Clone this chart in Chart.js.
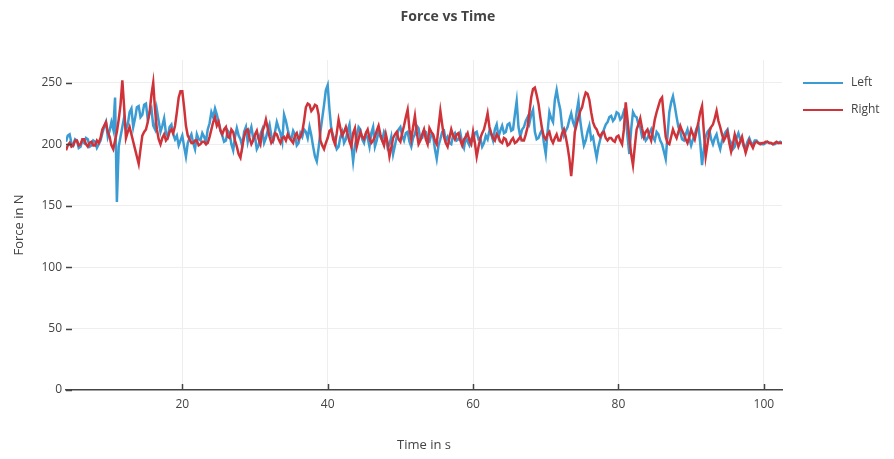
<!DOCTYPE html>
<html>
<head>
<meta charset="utf-8">
<script src="https://cdn.jsdelivr.net/npm/chart.js@4.4.1/dist/chart.umd.min.js"></script>
<style>
  html, body { margin: 0; padding: 0; background: #fff; }
  #wrap { width: 894px; height: 459px; }
</style>
</head>
<body>
<div id="wrap"><canvas id="c" width="894" height="459"></canvas></div>
<script>
// ---- data ----
const chartTitle = "Force vs Time";
const xTitle = "Time in s";
const yTitle = "Force in N";
const seriesNames = ["Left", "Right"];
const timeStart = 4;       // s
const timeStep = 0.25;     // s (sampling interval)
const xTicks = [20, 40, 60, 80, 100];
const yTicks = [0, 50, 100, 150, 200, 250];

const leftForce = [
  202,207,208,201,199,204,203,197,198,203,201,205,204,198,199,203,202,197,200,203,
  209,214,218,206,211,218,212,238,153,198,206,214,222,212,216,226,229,214,221,230,
  231,222,224,232,233,220,226,229,215,212,228,219,210,215,221,209,206,214,216,208,
  204,207,199,203,207,198,190,201,205,208,201,196,208,204,203,209,206,202,212,217,
  226,222,229,224,218,211,207,202,203,211,209,200,195,206,213,207,204,198,210,214,
  202,209,214,205,206,196,199,208,212,201,205,211,216,207,203,210,218,213,209,202,
  224,219,212,206,204,211,208,199,201,209,206,212,210,205,214,207,198,190,186,197,
  210,221,232,244,248,228,212,207,203,196,198,206,210,201,204,211,216,200,186,199,
  206,214,212,204,201,208,205,198,209,214,198,203,211,206,203,210,207,197,200,206,
  192,199,206,212,214,207,203,209,210,202,198,205,208,215,213,204,205,211,210,203,
  202,208,207,196,188,199,204,210,211,203,206,201,200,207,209,203,204,209,201,197,
  206,202,199,204,203,209,210,204,205,198,201,207,204,211,208,203,212,216,206,211,
  215,209,210,216,217,211,212,224,235,214,206,212,214,219,222,217,224,228,210,204,
  205,209,212,201,192,210,226,221,218,236,244,235,228,214,207,211,214,220,225,218,
  214,226,235,219,208,199,203,210,215,204,206,197,189,198,204,209,212,216,218,222,
  223,219,221,226,225,220,222,227,224,206,192,212,226,223,222,216,214,206,208,203,
  205,209,212,206,203,210,208,203,200,194,188,207,226,234,239,231,222,214,210,204,
  203,208,212,205,199,204,208,213,215,201,183,196,206,210,212,204,200,205,208,201,
  196,203,207,210,212,204,201,196,198,205,209,204,203,198,197,202,205,201,200,203,
  203,201,201,200,200,201,202,201,201,200,200,201,201,202,201
];

const rightForce = [
  195,199,201,198,199,203,203,199,200,204,204,200,198,201,202,199,199,203,201,205,
  212,215,218,210,206,199,196,203,210,220,232,252,230,205,210,214,208,202,196,190,
  184,196,207,210,212,218,226,240,250,228,212,204,200,205,208,203,205,210,212,209,
  215,226,238,243,243,230,215,207,204,201,201,203,203,199,200,202,202,200,201,206,
  212,218,222,215,218,211,208,212,214,206,205,212,210,203,198,192,189,198,206,211,
  212,205,200,203,208,211,204,200,210,214,220,213,206,201,203,209,208,204,201,205,
  206,203,208,205,203,201,207,209,204,206,210,219,230,233,232,227,229,232,231,224,
  203,199,196,201,205,211,212,204,200,209,220,213,207,210,214,208,202,198,209,213,
  198,204,210,206,204,209,212,205,201,203,206,211,215,208,203,199,208,201,190,197,
  205,208,210,204,202,209,215,222,228,212,204,214,223,210,200,203,208,212,204,200,
  213,210,208,203,200,214,227,216,206,201,198,205,212,207,204,208,209,203,199,204,
  206,209,203,200,210,201,190,198,205,209,212,218,225,214,209,205,203,208,206,202,
  201,205,204,199,200,203,205,201,202,204,206,203,203,208,214,226,238,245,246,240,
  233,222,212,206,204,208,210,204,201,205,208,203,203,209,212,206,198,188,174,190,
  210,216,222,227,230,237,242,241,236,226,218,214,212,208,206,209,210,205,203,205,
  205,203,202,206,207,203,200,212,234,220,205,192,183,198,212,216,221,213,206,210,
  212,207,203,211,220,226,231,236,238,222,206,201,200,206,212,208,205,210,215,211,
  208,204,201,206,212,208,204,211,218,226,231,210,190,200,210,214,216,221,227,219,
  214,208,203,206,210,201,194,200,208,203,198,202,206,199,193,198,203,200,197,201,
  202,201,200,201,201,202,202,201,201,200,201,202,201,201,201
];

const colors = ["#3b9bd3", "#cf3339"];

// ---- build ----
const times = leftForce.map((_, i) => timeStart + i * timeStep);
const toPoints = arr => arr.map((v, i) => ({ x: times[i], y: v }));

const FONT = "'Open Sans', 'DejaVu Sans', sans-serif";
const TEXT = "#444";

const AREA = { left: 66, right: 782, top: 60, bottom: 390 };

const decorPlugin = {
  id: 'decor',
  afterDatasetsDraw(chart) {
    const ctx = chart.ctx;
    const xs = chart.scales.x, ys = chart.scales.y;
    const a = chart.chartArea;
    ctx.save();
    ctx.strokeStyle = TEXT;
    ctx.lineWidth = 1.5;
    yTicks.forEach(v => {
      const py = Math.round(ys.getPixelForValue(v)) + 0.5;
      ctx.beginPath(); ctx.moveTo(a.left, py); ctx.lineTo(a.left + 6, py); ctx.stroke();
    });
    xTicks.forEach(v => {
      const px = Math.round(xs.getPixelForValue(v)) + 0.5;
      ctx.beginPath(); ctx.moveTo(px, a.bottom); ctx.lineTo(px, a.bottom - 6); ctx.stroke();
    });
    ctx.restore();
  },
  afterDraw(chart) {
    const ctx = chart.ctx;
    ctx.save();
    ctx.fillStyle = TEXT;
    ctx.font = "bold 14px " + FONT;
    ctx.textAlign = "center";
    ctx.textBaseline = "middle";
    ctx.fillText(chartTitle, 448, 17);
    ctx.font = "12px " + FONT;
    ctx.textAlign = "left";
    chart.data.datasets.forEach((ds, i) => {
      const y = 83 + i * 27;
      ctx.strokeStyle = ds.borderColor;
      ctx.lineWidth = 2;
      ctx.beginPath(); ctx.moveTo(803, y); ctx.lineTo(843, y); ctx.stroke();
      ctx.fillStyle = TEXT;
      ctx.fillText(ds.label, 851, y);
    });
    ctx.restore();
  }
};

new Chart(document.getElementById('c'), {
  type: 'line',
  data: {
    datasets: [
      { label: seriesNames[0], data: toPoints(leftForce), borderColor: colors[0], backgroundColor: colors[0],
        borderWidth: 2.5, pointRadius: 0, tension: 0, order: 1 },
      { label: seriesNames[1], data: toPoints(rightForce), borderColor: colors[1], backgroundColor: colors[1],
        borderWidth: 2.5, pointRadius: 0, tension: 0, order: 0 }
    ]
  },
  options: {
    responsive: false,
    devicePixelRatio: 1,
    animation: false,
    events: [],
    layout: { padding: { left: 0, right: 894 - AREA.right, top: AREA.top, bottom: 0 } },
    plugins: { legend: { display: false }, title: { display: false }, tooltip: { enabled: false } },
    scales: {
      x: {
        type: 'linear',
        min: times[0],
        max: times[times.length - 1],
        afterBuildTicks: s => { s.ticks = xTicks.map(v => ({ value: v })); },
        afterFit: s => { s.height = 459 - AREA.bottom; },
        grid: { color: '#eeeeee', lineWidth: 1, drawTicks: false },
        border: { display: true, color: TEXT, width: 1.5 },
        ticks: { color: TEXT, font: { family: FONT, size: 12 }, padding: 7, maxRotation: 0 },
        title: { display: true, text: xTitle, color: TEXT, font: { family: FONT, size: 13 }, padding: { top: 0, bottom: 6 } }
      },
      y: {
        type: 'linear',
        min: 0,
        max: 268.5,
        afterBuildTicks: s => { s.ticks = yTicks.map(v => ({ value: v })); },
        afterFit: s => { s.width = AREA.left; },
        grid: { color: ctx => ctx.tick && ctx.tick.value === 0 ? 'rgba(0,0,0,0)' : '#eeeeee', lineWidth: 1, drawTicks: false },
        border: { display: false },
        ticks: { color: TEXT, font: { family: FONT, size: 12 }, padding: 4 },
        title: { display: true, text: yTitle, color: TEXT, font: { family: FONT, size: 13 }, padding: { top: 11, bottom: 0 } }
      }
    }
  },
  plugins: [decorPlugin]
});
</script>
</body>
</html>
